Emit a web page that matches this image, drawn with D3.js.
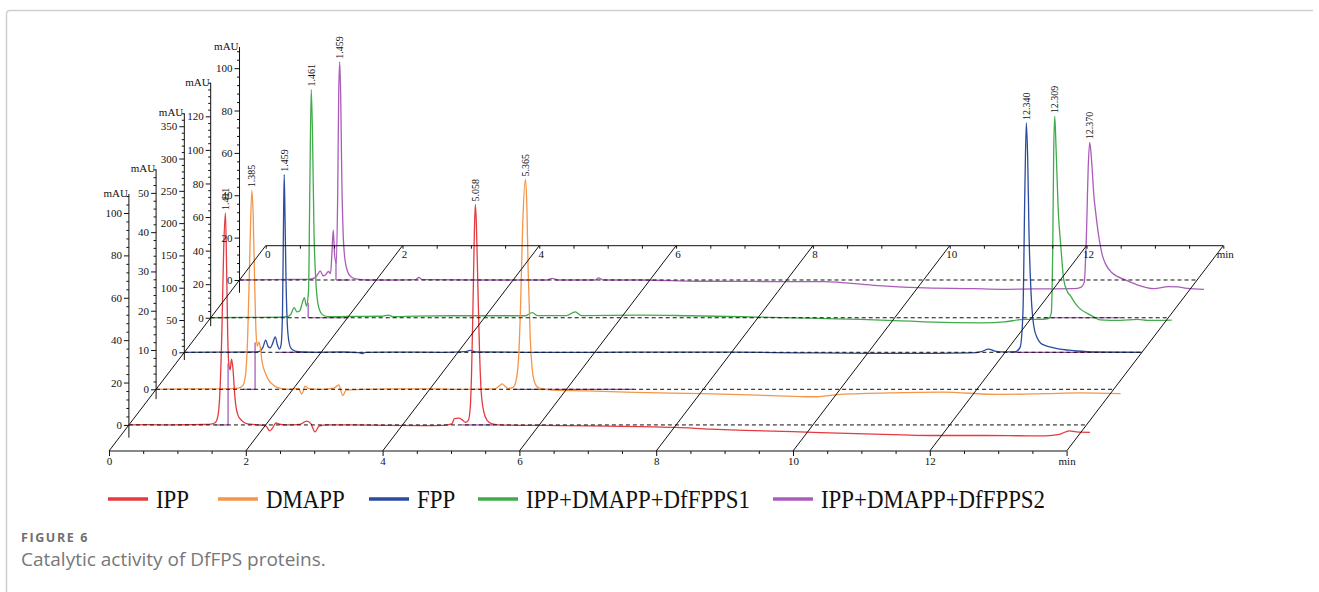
<!DOCTYPE html>
<html><head><meta charset="utf-8">
<script src="https://cdn.jsdelivr.net/npm/d3@7"></script>
<style>
html,body{margin:0;padding:0;background:#fff;}
svg{display:block;}
</style></head>
<body>
<svg id="chart" width="1319" height="592"></svg>
<script>
// ---------------- DATA ----------------
const seriesNames = ["IPP", "DMAPP", "FPP", "IPP+DMAPP+DfFPPS1", "IPP+DMAPP+DfFPPS2"];
const seriesColors = ["#e53a3f", "#f59548", "#2b4ba0", "#41ab4c", "#ab5cba"];

// retention time (min), absorbance (mAU)
const ippTrace = [[0,0],[0.3,0.1],[0.6,0],[0.9,0.1],[1.1,0.2],[1.2,0.4],[1.26,1],[1.3,4],[1.33,15],[1.36,45],[1.385,82],[1.411,100],[1.428,75],[1.445,42],[1.46,29],[1.48,26],[1.50,31],[1.52,27],[1.55,13],[1.59,5],[1.65,2],[1.72,0.6],[1.85,0.1],[2.0,-0.4],[2.06,-2.8],[2.1,-1.5],[2.15,0.9],[2.2,0.4],[2.3,0],[2.5,0.3],[2.6,1.8],[2.66,0.6],[2.72,-3.3],[2.78,-0.6],[2.9,0],[3.3,0],[3.8,-0.2],[4.3,-0.3],[4.6,-0.2],[4.72,0.5],[4.76,3],[4.82,3.2],[4.87,2.5],[4.92,1.2],[4.96,2],[4.99,8],[5.01,25],[5.03,55],[5.05,90],[5.065,104],[5.08,95],[5.1,68],[5.125,36],[5.15,16],[5.19,6],[5.24,2],[5.3,0.6],[5.4,0],[5.8,-0.2],[6.3,-0.3],[7.0,-0.6],[7.5,-0.8],[8.0,-1.2],[8.5,-2],[9.0,-2.6],[9.7,-3.2],[10.5,-4],[11.3,-4.7],[11.7,-5],[12.5,-5],[13.0,-5.1],[13.4,-5.2],[13.6,-4.5],[13.75,-2.8],[13.85,-3.3],[14.05,-3.5]];
const dmappTrace = [[0,0],[0.5,0.1],[1.0,0.1],[1.2,0.3],[1.27,1],[1.31,4],[1.34,14],[1.37,34],[1.40,50.7],[1.42,44],[1.44,28],[1.46,15],[1.48,11],[1.5,12],[1.52,11],[1.55,7],[1.6,4],[1.65,2.2],[1.72,1],[1.8,0.3],[1.95,0],[2.08,0.2],[2.13,-1.2],[2.18,0.8],[2.23,0.2],[2.4,0],[2.6,0.3],[2.67,1.1],[2.73,-1.6],[2.78,-0.2],[3.0,0],[3.5,0.1],[4.0,0.1],[4.5,0],[4.95,0.1],[5.02,0.9],[5.06,1.4],[5.1,0.8],[5.15,0.2],[5.22,0.5],[5.26,2],[5.3,8],[5.33,22],[5.36,42],[5.40,53.4],[5.42,47],[5.44,30],[5.47,13],[5.5,5],[5.54,1.5],[5.6,0.3],[5.8,-0.2],[6.3,-0.4],[7.0,-0.8],[8.0,-1.1],[9.0,-1.6],[9.6,-1.9],[10.0,-1.3],[10.9,-0.85],[11.5,-0.7],[12.3,-1.3],[13.0,-1.1],[13.5,-0.9],[14.1,-1.1]];
const fppTrace = [[0,0],[0.5,0.3],[1.0,0.5],[1.1,1.5],[1.15,8],[1.19,19],[1.225,9],[1.255,7],[1.285,12],[1.31,20],[1.33,24],[1.36,12],[1.39,5],[1.415,12],[1.435,60],[1.448,180],[1.46,275],[1.472,210],[1.487,110],[1.505,45],[1.53,16],[1.56,6],[1.62,2],[1.72,0.5],[1.9,0],[2.3,0.5],[2.55,-0.5],[2.6,-1.8],[2.65,0],[3.0,0.3],[3.8,0],[4.1,1],[4.18,3],[4.26,0.5],[5,0],[6,0],[7,0.3],[8,0.2],[9,-0.8],[10,-1.5],[11,-1.5],[11.5,-1],[11.65,1],[11.76,5],[11.85,2],[12.0,0.5],[12.15,1],[12.22,8],[12.26,60],[12.29,260],[12.31,355],[12.33,300],[12.35,180],[12.38,90],[12.42,40],[12.47,22],[12.52,14],[12.6,10],[12.67,8],[12.8,5],[12.91,3.6],[13.05,2],[13.21,1],[13.5,0.3],[14.0,0]];
const dffpps1Trace = [[0,0],[0.5,0.2],[1.0,0.3],[1.12,0.6],[1.17,2],[1.22,6],[1.26,3.5],[1.3,4],[1.34,9],[1.37,12],[1.40,7],[1.43,16],[1.45,80],[1.47,136],[1.49,105],[1.51,52],[1.54,20],[1.57,8],[1.61,3],[1.66,1.2],[1.75,0.6],[2.0,0.8],[2.5,0.9],[2.6,1.6],[2.66,0.6],[3.0,1],[3.5,1.2],[4.0,1.2],[4.6,1.2],[4.7,3],[4.78,1.3],[5.2,1.3],[5.33,3.5],[5.42,1.3],[6.28,1.6],[7,1.2],[8,0.4],[8.92,-0.4],[9.5,-1],[10.09,-1.8],[10.43,-2.4],[11.3,-3],[11.6,-2.5],[11.89,-1],[12.1,-1],[12.25,-0.5],[12.29,3],[12.31,40],[12.325,100],[12.34,120],[12.36,100],[12.39,65],[12.43,42],[12.47,23],[12.52,16],[12.57,13],[12.65,8],[12.72,5],[12.82,2.5],[12.91,0.5],[13.0,-1.2],[13.3,-1.5],[13.55,-1],[13.7,-1.6],[14.05,-1.4]];
const dffpps2Trace = [[0,0],[0.5,0.2],[1.0,0.3],[1.1,1],[1.15,3],[1.18,4.3],[1.22,2],[1.26,2.5],[1.3,4],[1.33,3],[1.35,12],[1.37,23.6],[1.39,12],[1.415,8],[1.435,40],[1.45,88],[1.465,103],[1.48,85],[1.495,48],[1.515,22],[1.54,10],[1.58,4],[1.63,1.5],[1.7,0.5],[1.85,0],[2.3,0],[2.58,0.2],[2.62,1.2],[2.67,0.2],[3.5,0],[4.5,0],[4.57,0.8],[4.65,0],[5.2,0],[5.25,1],[5.32,0],[5.86,0],[6.7,-0.6],[7.5,-0.7],[8.54,-0.8],[9.27,-2.5],[9.92,-3.6],[10.74,-4.1],[11.13,-4.4],[11.6,-4.2],[12.2,-4.1],[12.3,-3.5],[12.35,-1],[12.38,20],[12.41,55],[12.43,65],[12.46,55],[12.49,40],[12.52,31],[12.56,21],[12.62,11],[12.67,7],[12.75,3.5],[12.84,1.6],[12.95,0],[13.1,-2],[13.37,-4.1],[13.58,-3.1],[13.72,-3.3],[13.85,-4],[14.1,-4.4]];
const traces = [ippTrace, dmappTrace, fppTrace, dffpps1Trace, dffpps2Trace];

// y axes (mAU) for each trace
const yDomains = [[-6, 109], [-2.5, 56], [-12, 370], [-5, 140], [-6, 110]];
const yMajorTicks = [
  [0, 20, 40, 60, 80, 100],
  [0, 10, 20, 30, 40, 50],
  [0, 50, 100, 150, 200, 250, 300, 350],
  [0, 20, 40, 60, 80, 100, 120],
  [0, 20, 40, 60, 80, 100]
];
const yMinorStep = [4, 2, 10, 4, 4];
const yUnit = "mAU";

// time axis
const timeMax = 14;
const xMajorTicks = [0, 2, 4, 6, 8, 10, 12, 14];
const xMinorStep = 0.5;
const xUnit = "min";

// peak annotations: [series index, label, retention time of apex]
const peakLabels = [
  [0, "1.411", 1.411], [0, "5.058", 5.065],
  [1, "1.385", 1.40], [1, "5.365", 5.40],
  [2, "1.459", 1.46], [2, "12.340", 12.31],
  [3, "1.461", 1.47], [3, "12.309", 12.34],
  [4, "1.459", 1.465], [4, "12.370", 12.43]
];
// integration baselines: [series index, start, end]
const integrationMarks = [[0,1.26,1.45],[0,4.87,5.33],[1,1.27,1.45],[1,5.22,6.98],[2,1.39,2.03],[2,12.13,13.99],[3,1.425,2.02],[3,12.18,13.31],[4,1.41,1.62]];
// integration drop lines: [series index, time, height]
const dropLines = [[0,1.45,29],[1,1.447,12],[3,1.425,9],[4,1.41,9]];

const figureLabel = "FIGURE 6";
const captionText = "Catalytic activity of DfFPS proteins.";

// ---------------- LAYOUT ----------------
const svg = d3.select("#chart");
const origin = {x: 109, y: 451};
const xLen = 957.6;
const back = {dx: 156.7, dy: -205.3};
const depth = [0.127, 0.3005, 0.4807, 0.649, 0.833];
const axisPx = [231, 220, 239, 235, 233];
const serif = "'Liberation Serif','Times New Roman',serif";

const x = d3.scaleLinear().domain([0, timeMax]).range([0, xLen]);

// frame
svg.append("path")
  .attr("d", "M6.5,592 L6.5,14 Q6.5,10.5 10,10.5 L1313,10.5")
  .attr("fill", "none").attr("stroke", "#cfcfcf").attr("stroke-width", 1.5);

const plot = svg.append("g");

const yScales = yDomains.map((d, i) => d3.scaleLinear().domain([0, d[1]]).range([0, -axisPx[i]]));
const gpos = depth.map(f => ({x: origin.x + f * back.dx, y: origin.y + f * back.dy}));

// traces back-to-front
const traceLayer = plot.append("g");
for (let i = traces.length - 1; i >= 0; i--) {
  const y = yScales[i];
  const g = traceLayer.append("g").attr("transform", `translate(${gpos[i].x},${gpos[i].y})`);
  integrationMarks.filter(m => m[0] === i).forEach(m => {
    g.append("line").attr("x1", x(m[1])).attr("x2", x(m[2])).attr("y1", y(0)).attr("y2", y(0))
      .attr("stroke", "#a050b4").attr("stroke-width", 1.2);
  });
  dropLines.filter(m => m[0] === i).forEach(m => {
    g.append("line").attr("x1", x(m[1])).attr("x2", x(m[1])).attr("y1", y(0)).attr("y2", y(m[2]))
      .attr("stroke", "#a050b4").attr("stroke-width", 1.2);
  });
  g.append("path").datum(traces[i])
    .attr("d", d3.line().x(d => x(d[0])).y(d => y(d[1])).curve(d3.curveMonotoneX))
    .attr("fill", "none").attr("stroke", seriesColors[i]).attr("stroke-width", 1.3)
    .attr("stroke-linejoin", "round");
}

// dashed baselines
depth.forEach((f, i) => {
  plot.append("line")
    .attr("x1", gpos[i].x + x(0)).attr("x2", gpos[i].x + x(timeMax))
    .attr("y1", gpos[i].y).attr("y2", gpos[i].y)
    .attr("stroke", "#111").attr("stroke-width", 1).attr("stroke-dasharray", "4,3");
});

// diagonals
xMajorTicks.forEach(t => {
  plot.append("line")
    .attr("x1", origin.x + x(t)).attr("y1", origin.y)
    .attr("x2", origin.x + x(t) + back.dx).attr("y2", origin.y + back.dy)
    .attr("stroke", "#111").attr("stroke-width", 1);
});

// time axes (front and back)
const minorX = d3.range(0, timeMax + 1e-9, xMinorStep).filter(v => Math.abs(v / 2 - Math.round(v / 2)) > 1e-6);
function timeAxis(tx, ty, major, minor, pad, shift) {
  const g = plot.append("g").attr("transform", `translate(${tx},${ty})`);
  g.append("line").attr("x1", 0).attr("x2", xLen).attr("stroke", "#111").attr("stroke-width", 1);
  const a = g.append("g").call(d3.axisBottom(x).tickValues(xMajorTicks).tickSize(major).tickPadding(pad)
    .tickFormat(d => d === timeMax ? xUnit : d));
  a.select(".domain").remove();
  a.selectAll("text").attr("font-family", serif).attr("font-size", 11).attr("fill", "#111").attr("dx", shift);
  a.selectAll("line").attr("stroke", "#111");
  const b = g.append("g").call(d3.axisBottom(x).tickValues(minorX).tickSize(minor).tickFormat(""));
  b.select(".domain").remove();
  b.selectAll("line").attr("stroke", "#111");
}
timeAxis(origin.x, origin.y, 5, 3, 1, 0);
timeAxis(origin.x + back.dx, origin.y + back.dy, 3, 3, 1.5, 1.5);

// y axes
yScales.forEach((y, i) => {
  const g = plot.append("g").attr("transform", `translate(${gpos[i].x},${gpos[i].y})`);
  g.append("line").attr("x1", 0).attr("x2", 0).attr("y1", y(yDomains[i][0])).attr("y2", y(yDomains[i][1]))
    .attr("stroke", "#111").attr("stroke-width", 1);
  const majors = yMajorTicks[i];
  const minors = d3.range(0, yDomains[i][1] + 1e-9, yMinorStep[i]).filter(v => !majors.includes(v));
  const a = g.append("g").call(d3.axisLeft(y).tickValues(majors).tickSize(5).tickPadding(2));
  a.select(".domain").remove();
  a.selectAll("text").attr("font-family", serif).attr("font-size", 11).attr("fill", "#111");
  a.selectAll("line").attr("stroke", "#111");
  const b = g.append("g").call(d3.axisLeft(y).tickValues(minors).tickSize(2.5).tickFormat(""));
  b.select(".domain").remove();
  b.selectAll("line").attr("stroke", "#111");
  g.append("text").attr("x", -1).attr("y", y(yDomains[i][1]) + 3)
    .attr("text-anchor", "end").attr("font-family", serif).attr("font-size", 11).attr("fill", "#111")
    .text(yUnit);
});

// peak labels
peakLabels.forEach(([si, lab, t]) => {
  const pt = traces[si].reduce((a, b) => Math.abs(b[0] - t) < Math.abs(a[0] - t) ? b : a);
  const px = gpos[si].x + x(pt[0]) + 3.5;
  const py = gpos[si].y + yScales[si](pt[1]) - 3;
  plot.append("text").attr("transform", `translate(${px},${py}) rotate(-90)`)
    .attr("font-family", serif).attr("font-size", 10).attr("fill", "#111").text(lab);
});

// legend
const legendX = [108, 218, 369, 478, 773];
const legendY = 499;
const lg = svg.append("g");
seriesNames.forEach((n, i) => {
  lg.append("line").attr("x1", legendX[i]).attr("x2", legendX[i] + 40)
    .attr("y1", legendY).attr("y2", legendY)
    .attr("stroke", seriesColors[i]).attr("stroke-width", 3.5);
  lg.append("text").attr("transform", `translate(${legendX[i] + 48},${legendY + 8.5}) scale(0.88,1)`)
    .attr("font-family", serif).attr("font-size", 26).attr("fill", "#111").text(n);
});

// caption
svg.append("text").attr("x", 21).attr("y", 542)
  .attr("font-family", "'Open Sans',sans-serif").attr("font-size", 12.5).attr("font-weight", 700)
  .attr("letter-spacing", 1.6).attr("fill", "#707070").text(figureLabel);
svg.append("text").attr("x", 21).attr("y", 566)
  .attr("font-family", "'Open Sans',sans-serif").attr("font-size", 19)
  .attr("fill", "#777777").text(captionText);
</script>
</body></html>
